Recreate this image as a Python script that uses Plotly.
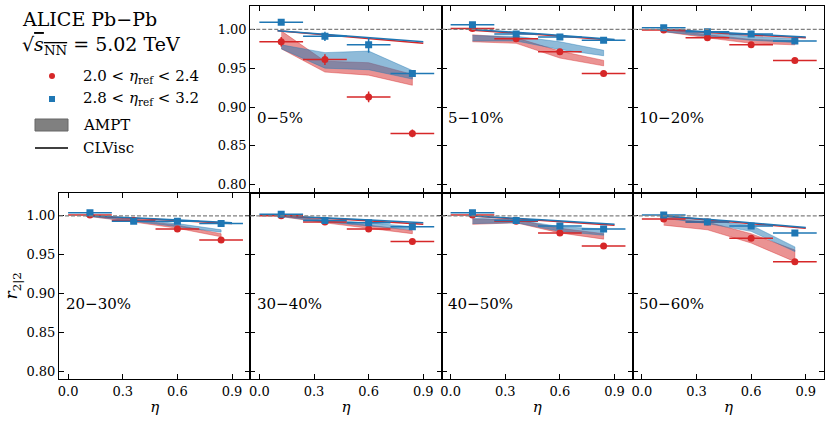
import plotly.graph_objects as go
from plotly.subplots import make_subplots

# ---------------- data ----------------
centralities = ["0−5%", "5−10%", "10−20%", "20−30%", "30−40%", "40−50%", "50−60%"]
eta = [0.12, 0.36, 0.60, 0.84]
eta_halfwidth = [0.12, 0.12, 0.12, 0.12]

# ALICE 2.0 < eta_ref < 2.4 (red circles)
red_val = [
    [0.984, 0.961, 0.913, 0.866],
    [1.001, 0.988, 0.971, 0.943],
    [0.999, 0.989, 0.980, 0.960],
    [1.001, 0.994, 0.983, 0.969],
    [1.000, 0.992, 0.983, 0.967],
    [1.001, 0.993, 0.978, 0.961],
    [0.996, 0.992, 0.971, 0.941],
]
red_err = [
    [0.006, 0.007, 0.007, 0.005],
    [0.002, 0.002, 0.002, 0.002],
    [0.002, 0.002, 0.002, 0.002],
    [0.002, 0.002, 0.002, 0.002],
    [0.002, 0.002, 0.002, 0.002],
    [0.002, 0.002, 0.002, 0.002],
    [0.002, 0.002, 0.002, 0.003],
]
# ALICE 2.8 < eta_ref < 3.2 (blue squares)
blue_val = [
    [1.009, 0.991, 0.980, 0.943],
    [1.006, 0.994, 0.990, 0.986],
    [1.002, 0.997, 0.994, 0.985],
    [1.004, 0.993, 0.993, 0.990],
    [1.002, 0.994, 0.991, 0.986],
    [1.004, 0.994, 0.987, 0.983],
    [1.001, 0.992, 0.987, 0.978],
]
blue_err = [
    [0.002, 0.006, 0.010, 0.003],
    [0.002, 0.002, 0.002, 0.002],
    [0.002, 0.002, 0.002, 0.002],
    [0.002, 0.002, 0.002, 0.002],
    [0.002, 0.002, 0.002, 0.002],
    [0.002, 0.002, 0.002, 0.002],
    [0.002, 0.002, 0.002, 0.002],
]

# AMPT bands (low / high edges) at eta points
ampt_red_lo = [
    [0.975, 0.945, 0.941, 0.928],
    [0.984, 0.982, 0.963, 0.953],
    [0.997, 0.989, 0.982, 0.980],
    [0.999, 0.992, 0.984, 0.973],
    [0.999, 0.991, 0.984, 0.977],
    [0.989, 0.991, 0.978, 0.970],
    [0.988, 0.982, 0.965, 0.941],
]
ampt_red_hi = [
    [0.998, 0.959, 0.957, 0.942],
    [0.993, 0.989, 0.972, 0.960],
    [1.000, 0.993, 0.987, 0.985],
    [1.001, 0.995, 0.988, 0.977],
    [1.001, 0.994, 0.988, 0.981],
    [0.996, 0.995, 0.984, 0.977],
    [0.997, 0.992, 0.977, 0.956],
]
ampt_blue_lo = [
    [0.975, 0.950, 0.948, 0.936],
    [0.985, 0.985, 0.974, 0.966],
    [0.997, 0.991, 0.986, 0.983],
    [0.999, 0.993, 0.986, 0.979],
    [0.999, 0.992, 0.987, 0.982],
    [0.990, 0.991, 0.980, 0.975],
    [0.997, 0.990, 0.980, 0.954],
]
ampt_blue_hi = [
    [0.980, 0.970, 0.972, 0.947],
    [0.992, 0.991, 0.984, 0.973],
    [1.000, 0.995, 0.991, 0.988],
    [1.001, 0.996, 0.990, 0.982],
    [1.001, 0.995, 0.991, 0.986],
    [0.997, 0.995, 0.986, 0.983],
    [1.001, 0.994, 0.988, 0.960],
]

# CLVisc curves
clv_eta = [0.10, 0.50, 0.90]
clv_red = [
    [0.998, 0.990, 0.982],
    [0.999, 0.993, 0.986],
    [1.000, 0.994, 0.989],
    [1.000, 0.995, 0.990],
    [1.000, 0.995, 0.989],
    [1.000, 0.994, 0.988],
    [1.000, 0.992, 0.984],
]
clv_blue = [
    [0.998, 0.991, 0.984],
    [1.000, 0.994, 0.987],
    [1.000, 0.995, 0.990],
    [1.000, 0.996, 0.991],
    [1.000, 0.996, 0.991],
    [1.000, 0.995, 0.989],
    [1.000, 0.993, 0.985],
]

x_ticks = [0.0, 0.3, 0.6, 0.9]
y_ticks = [0.80, 0.85, 0.90, 0.95, 1.00]

legend_labels = ["2.0 < <i>η</i><sub>ref</sub> < 2.4",
                 "2.8 < <i>η</i><sub>ref</sub> < 3.2",
                 "AMPT", "CLVisc"]

# ---------------- figure ----------------
RED = "#d62728"
BLUE = "#1f77b4"
RED_FILL = "rgba(214,39,40,0.5)"
BLUE_FILL = "rgba(31,119,180,0.5)"
FONT = "DejaVu Serif"

W, H = 830, 426
ML, MR, MT, MB = 59, 6, 6, 47
PW, PH = W - ML - MR, H - MT - MB


def px(xp):
    return (xp - ML) / PW


def py(yp):
    return 1 - (yp - MT) / PH


panels = [(1, 2), (1, 3), (1, 4), (2, 1), (2, 2), (2, 3), (2, 4)]

fig = make_subplots(rows=2, cols=4, horizontal_spacing=0, vertical_spacing=0)

for i, (r, c) in enumerate(panels):
    # AMPT bands
    for lo, hi, fc in [(ampt_red_lo[i], ampt_red_hi[i], RED_FILL),
                       (ampt_blue_lo[i], ampt_blue_hi[i], BLUE_FILL)]:
        fig.add_trace(go.Scatter(
            x=eta + eta[::-1], y=hi + lo[::-1], mode="lines", fill="toself",
            fillcolor=fc, line=dict(color=fc, width=0.8),
            showlegend=False, hoverinfo="skip"), row=r, col=c)
    # CLVisc
    for vals, col in [(clv_red[i], RED), (clv_blue[i], BLUE)]:
        fig.add_trace(go.Scatter(
            x=clv_eta, y=vals, mode="lines", line=dict(color=col, width=1.5),
            showlegend=False, hoverinfo="skip"), row=r, col=c)
    # data
    for vals, errs, col, sym in [(red_val[i], red_err[i], RED, "circle"),
                                 (blue_val[i], blue_err[i], BLUE, "square")]:
        fig.add_trace(go.Scatter(
            x=eta, y=vals, mode="markers",
            marker=dict(color=col, symbol=sym, size=7),
            error_x=dict(type="data", array=eta_halfwidth, color=col, thickness=1.5, width=0),
            error_y=dict(type="data", array=errs, color=col, thickness=1.5, width=0),
            showlegend=False), row=r, col=c)
    # reference line
    fig.add_hline(y=1.0, line=dict(color="#808080", dash="4px,2px", width=1.2), row=r, col=c)
    # centrality label
    fig.add_annotation(x=-0.025, y=0.886, text=centralities[i], showarrow=False,
                       xanchor="left", yanchor="middle",
                       font=dict(family=FONT, size=15, color="black"), row=r, col=c)

axis_common = dict(showline=True, linecolor="black", linewidth=1, mirror="ticks",
                   ticks="inside", ticklen=5, tickwidth=1, tickcolor="black",
                   showgrid=False, zeroline=False,
                   tickfont=dict(family=FONT, size=13, color="black"))

for r in (1, 2):
    for c in (1, 2, 3, 4):
        if (r, c) == (1, 1):
            fig.update_xaxes(visible=False, row=r, col=c)
            fig.update_yaxes(visible=False, row=r, col=c)
            continue
        fig.update_xaxes(range=[-0.05, 1.0], tickvals=x_ticks, tickformat=".1f",
                         showticklabels=(r == 2), **axis_common, row=r, col=c)
        fig.update_yaxes(range=[0.79, 1.03], tickvals=y_ticks, tickformat=".2f",
                         showticklabels=((r, c) in [(1, 2), (2, 1)]),
                         **axis_common, row=r, col=c)
        if r == 2:
            fig.update_xaxes(title=dict(text="<i>η</i>", standoff=3,
                                        font=dict(family=FONT, size=15, color="black")),
                             row=r, col=c)

fig.update_yaxes(title=dict(text="<i>r</i><sub>2|2</sub>", standoff=4,
                            font=dict(family=FONT, size=17, color="black")), row=2, col=1)

# header text
fig.add_annotation(xref="paper", yref="paper", x=px(20), y=py(19), text="ALICE Pb−Pb",
                   showarrow=False, xanchor="left", yanchor="middle",
                   font=dict(family=FONT, size=19, color="black"))
fig.add_annotation(xref="paper", yref="paper", x=px(20), y=py(46),
                   text="√<span style='text-decoration:overline'><i>s</i><sub>NN</sub></span> = 5.02 TeV",
                   showarrow=False, xanchor="left", yanchor="middle",
                   font=dict(family=FONT, size=19, color="black"))

# manual legend
leg_y = [76, 99, 125, 148]
for lab, yy in zip(legend_labels, leg_y):
    fig.add_annotation(xref="paper", yref="paper", x=px(81), y=py(yy), text=lab,
                       showarrow=False, xanchor="left", yanchor="middle",
                       font=dict(family=FONT, size=15, color="black"))
fig.add_shape(type="circle", xref="paper", yref="paper", xsizemode="pixel", ysizemode="pixel",
              xanchor=px(52), yanchor=py(76), x0=-3, x1=3, y0=-3, y1=3,
              fillcolor=RED, line=dict(color=RED, width=0))
fig.add_shape(type="rect", xref="paper", yref="paper", xsizemode="pixel", ysizemode="pixel",
              xanchor=px(52), yanchor=py(99), x0=-3, x1=3, y0=-3, y1=3,
              fillcolor=BLUE, line=dict(color=BLUE, width=0))
fig.add_shape(type="rect", xref="paper", yref="paper",
              x0=px(35), x1=px(68), y0=py(131), y1=py(119),
              fillcolor="#808080", line=dict(color="#666666", width=1))
fig.add_shape(type="line", xref="paper", yref="paper",
              x0=px(35), x1=px(68), y0=py(148), y1=py(148),
              line=dict(color="black", width=1.5))

fig.update_layout(
    width=W, height=H,
    margin=dict(l=ML, r=MR, t=MT, b=MB, autoexpand=False),
    paper_bgcolor="white", plot_bgcolor="white",
    showlegend=False,
)

fig.write_html("out.html", config={"displayModeBar": False},
               post_script="document.body.style.margin='0';document.body.style.overflow='hidden';")
